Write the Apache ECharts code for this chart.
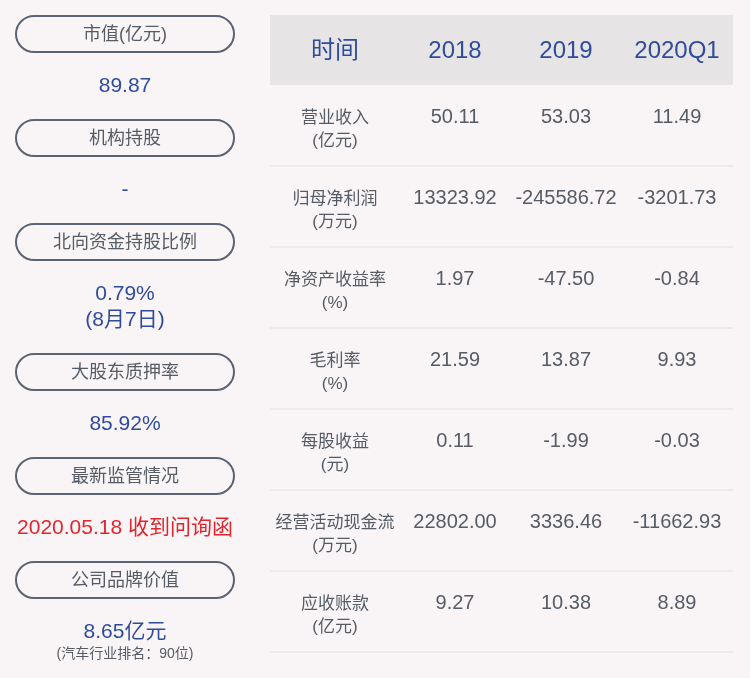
<!DOCTYPE html>
<html><head><meta charset="utf-8">
<script src="https://cdn.jsdelivr.net/npm/echarts@6/dist/echarts.min.js"></script>
<style>html,body{margin:0;padding:0;background:#f9f5f6}#c{width:750px;height:678px}</style>
</head><body><div id="c"></div>
<script>
const pillLabels = ['市值(亿元)','机构持股','北向资金持股比例','大股东质押率','最新监管情况','公司品牌价值'];
const pillValues = [['89.87'],['-'],['0.79%','(8月7日)'],['85.92%'],['2020.05.18 收到问询函'],['8.65亿元']];
const brandNote = '(汽车行业排名：90位)';
const headers = ['时间','2018','2019','2020Q1'];
const rowLabels = [['营业收入','(亿元)'],['归母净利润','(万元)'],['净资产收益率','(%)'],['毛利率','(%)'],['每股收益','(元)'],['经营活动现金流','(万元)'],['应收账款','(亿元)']];
const v2018 = ['50.11','13323.92','1.97','21.59','0.11','22802.00','9.27'];
const v2019 = ['53.03','-245586.72','-47.50','13.87','-1.99','3336.46','10.38'];
const vQ1 = ['11.49','-3201.73','-0.84','9.93','-0.03','-11662.93','8.89'];

const F = 'Arial, "Noto Sans CJK SC", sans-serif';
const BLUE = '#2f4c9b', GRAY = '#555c66', RED = '#e0262d';
const g = [];
const pillY = [34,138,242,372,476,580];
const valY = [[86],[190],[294,320],[424],[528],[632]];
pillLabels.forEach((t,i)=>{
  g.push({type:'rect',shape:{x:16,y:pillY[i]-18,width:218,height:36,r:18},style:{fill:'none',stroke:'#5b6472',lineWidth:2}});
  g.push({type:'text',x:125,y:pillY[i]+1,style:{text:t,font:'18px '+F,fill:GRAY,align:'center',verticalAlign:'middle'}});
  pillValues[i].forEach((v,j)=>{
    g.push({type:'text',x:125,y:valY[i][j],style:{text:v,font:'21px '+F,fill:i===4?RED:BLUE,align:'center',verticalAlign:'middle'}});
  });
});
g.push({type:'text',x:125,y:654,style:{text:brandNote,font:'14px '+F,fill:GRAY,align:'center',verticalAlign:'middle'}});
const cx = [335,455,566,677];
g.push({type:'rect',shape:{x:270,y:15,width:463,height:70},style:{fill:'#e6e4e5'}});
headers.forEach((h,i)=>g.push({type:'text',x:cx[i],y:51,style:{text:h,font:'24px '+F,fill:BLUE,align:'center',verticalAlign:'middle'}}));
rowLabels.forEach((l,r)=>{
  const top = 85 + r*81;
  g.push({type:'text',x:cx[0],y:top+33,style:{text:l[0],font:'17px '+F,fill:GRAY,align:'center',verticalAlign:'middle'}});
  g.push({type:'text',x:cx[0],y:top+56,style:{text:l[1],font:'17px '+F,fill:GRAY,align:'center',verticalAlign:'middle'}});
  [v2018,v2019,vQ1].forEach((arr,k)=>g.push({type:'text',x:cx[k+1],y:top+32,style:{text:arr[r],font:'20px '+F,fill:GRAY,align:'center',verticalAlign:'middle'}}));
  g.push({type:'line',shape:{x1:270,y1:top+81,x2:733,y2:top+81},style:{stroke:'#e2dfe0',lineWidth:1}});
});
const chart = echarts.init(document.getElementById('c'));
chart.setOption({backgroundColor:'#f9f5f6',graphic:g});
</script></body></html>
